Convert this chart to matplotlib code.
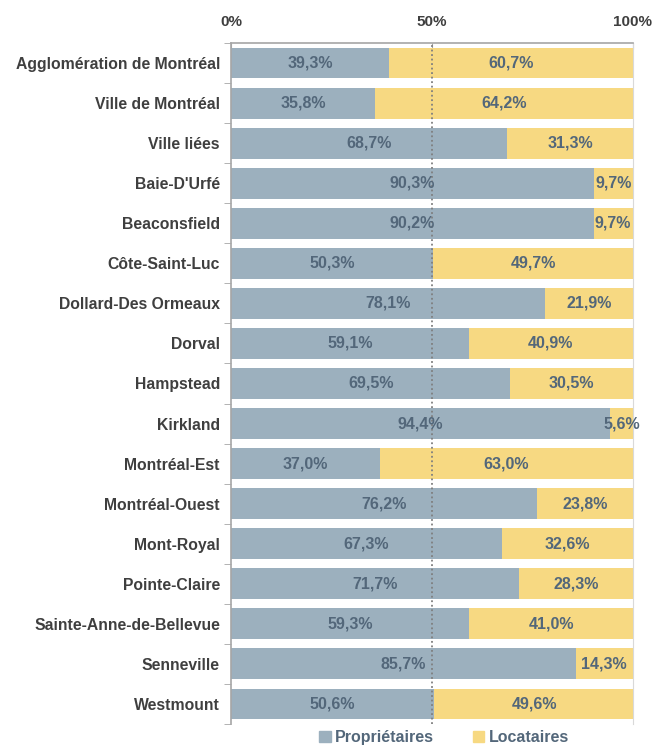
import numpy as np
import matplotlib
matplotlib.use("Agg")
import matplotlib.pyplot as plt
from matplotlib.patches import Patch

plt.rcParams["font.family"] = ["Liberation Sans", "DejaVu Sans"]

villes = ["Agglomération de Montréal", "Ville de Montréal", "Ville liées",
          "Baie-D'Urfé", "Beaconsfield", "Côte-Saint-Luc",
          "Dollard-Des Ormeaux", "Dorval", "Hampstead", "Kirkland",
          "Montréal-Est", "Montréal-Ouest", "Mont-Royal", "Pointe-Claire",
          "Sainte-Anne-de-Bellevue", "Senneville", "Westmount"]
proprietaires = [39.3, 35.8, 68.7, 90.3, 90.2, 50.3, 78.1, 59.1, 69.5, 94.4,
                 37.0, 76.2, 67.3, 71.7, 59.3, 85.7, 50.6]
locataires = [60.7, 64.2, 31.3, 9.7, 9.7, 49.7, 21.9, 40.9, 30.5, 5.6,
              63.0, 23.8, 32.6, 28.3, 41.0, 14.3, 49.6]

C_PROP = "#9CB0BE"
C_LOC = "#F7D982"
C_VAL = "#53677A"
C_TXT = "#3F3F3F"

fig = plt.figure(figsize=(6.55, 7.49), dpi=100)
ax = fig.add_axes([0.3527, 0.0334, 0.6137, 0.9092])

y = np.arange(len(villes))
prop = np.array(proprietaires)
loc = np.array(locataires)
ax.barh(y, prop, height=0.77, color=C_PROP, zorder=2)
ax.barh(y, loc, left=prop, height=0.77, color=C_LOC, zorder=2)

for i in range(len(villes)):
    ax.text(prop[i] / 2, y[i], f"{prop[i]:.1f}%".replace(".", ","),
            ha="center", va="center", fontsize=11.5, fontweight="bold",
            color=C_VAL, zorder=4)
    ax.text(prop[i] + loc[i] / 2, y[i], f"{loc[i]:.1f}%".replace(".", ","),
            ha="center", va="center", fontsize=11.5, fontweight="bold",
            color=C_VAL, zorder=4)

ax.axvline(50, color="#7F7F7F", linestyle=(0, (1, 1.5)), linewidth=1.3, zorder=3)

ax.set_xlim(0, 100)
ax.set_ylim(len(villes) - 0.5, -0.5)
ax.xaxis.tick_top()
ax.set_xticks([0, 50, 100])
ax.set_xticklabels(["0%", "50%", "100%"])
ax.tick_params(axis="x", direction="in", length=4, color="#A6A6A6",
               labelsize=11, labelcolor=C_TXT, pad=10)
for t in ax.get_xticklabels():
    t.set_fontweight("bold")

ax.set_yticks(y)
ax.set_yticklabels(villes)
ax.set_yticks(np.arange(len(villes) + 1) - 0.5, minor=True)
ax.tick_params(axis="y", which="major", length=0, labelsize=11.3,
               labelcolor=C_TXT, pad=8)
ax.tick_params(axis="y", which="minor", length=5, color="#A6A6A6")
for t in ax.get_yticklabels():
    t.set_fontweight("bold")

for s in ["top", "left"]:
    ax.spines[s].set_color("#A6A6A6")
    ax.spines[s].set_linewidth(1.2)
ax.spines["right"].set_color("#D9D9D9")
ax.spines["bottom"].set_visible(False)

handles = [Patch(color=C_PROP, label="Propriétaires"),
           Patch(color=C_LOC, label="Locataires")]
leg = fig.legend(handles=handles, loc="lower center", ncol=2, frameon=False,
                 bbox_to_anchor=(0.678, -0.014), handlelength=0.7,
                 handleheight=0.7, handletextpad=0.3, columnspacing=2.4,
                 prop={"size": 11.5, "weight": "bold"})
for t in leg.get_texts():
    t.set_color(C_VAL)

fig.savefig("out.png", dpi=100)
